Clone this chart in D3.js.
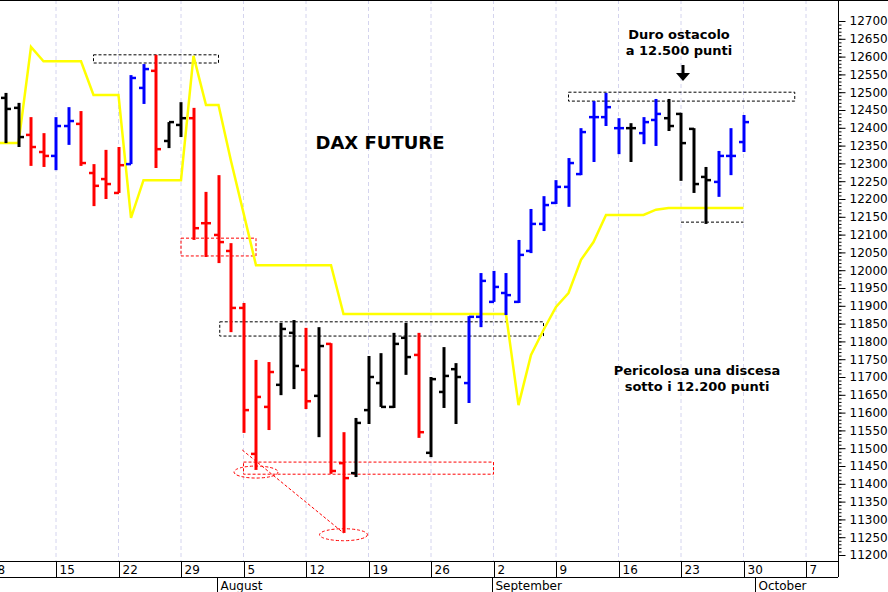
<!DOCTYPE html>
<html><head><meta charset="utf-8">
<script src="https://cdn.jsdelivr.net/npm/d3@7"></script>
<style>body{margin:0;background:#fff}svg{display:block;font-family:"DejaVu Sans",Verdana,sans-serif}</style>
</head><body><svg id="c" width="888" height="592"></svg>
<script>
const startIdx = 6; // trading-day index (0 = Mon 1 Jul 2019)
const opens  = [12484,12456,12380,12332,12321,12405,12411,12273,12256,12217,12298,12512,12560,12363,12408,12427,12132,12099,12054,11894,11484,11616,11678,11824,11720,11647,11793,11458,11430,11607,11683,11616,11810,11762,11487,11658,11722,11683,11869,11911,11936,11911,12054,12130,12189,12234,12270,12430,12430,12399,12399,12385,12422,12427,12439,12397,12262,12248,12321,12360];
const highs  = [12498,12470,12430,12385,12430,12458,12447,12298,12338,12346,12548,12579,12605,12416,12472,12456,12220,12267,12076,11908,11748,11742,11852,11860,11838,11840,11795,11545,11585,11759,11767,11824,11852,11824,11700,11784,11739,11871,11992,11998,11992,12085,12172,12208,12253,12315,12399,12475,12498,12427,12413,12430,12481,12481,12442,12399,12290,12335,12399,12436];
const lows   = [12357,12346,12293,12290,12281,12352,12293,12180,12200,12217,12298,12467,12287,12343,12374,12085,12037,12020,11826,11543,11439,11551,11649,11666,11610,11531,11428,11262,11419,11568,11616,11613,11706,11529,11475,11613,11568,11627,11840,11911,11874,11908,12048,12110,12186,12178,12267,12304,12405,12326,12304,12354,12349,12391,12251,12217,12130,12206,12267,12332];
const closes = [12453,12374,12346,12321,12405,12419,12301,12237,12242,12295,12540,12565,12340,12416,12427,12118,12132,12079,11894,11607,11644,11714,11835,11731,11632,11787,11436,11416,11571,11700,11616,11793,11756,11545,11694,11703,11700,11869,11970,11953,11930,12043,12130,12183,12234,12301,12388,12430,12458,12399,12399,12416,12439,12405,12357,12242,12253,12321,12321,12416];
const colors = "kkrrbbrrrrbbrkkrrrrrrrkkrkrrkkkkkrkkkbbbbbbbbbbbbbkbbkkkkbbb";
const yellowStart = 5;
const yellow = [12357,12357,12357,12627,12587,12587,12587,12587,12492,12492,12492,12147,12253,12253,12253,12253,12602,12464,12464,12307,12161,12014,12014,12014,12014,12014,12014,12014,11877,11877,11877,11877,11877,11877,11877,11877,11877,11877,11877,11877,11877,11877,11621,11762,11832,11897,11936,12029,12079,12155,12155,12155,12155,12170,12175,12175,12175,12175,12175,12175,12175];
const weekTicks = [{i:5,l:"8"},{i:10,l:"15"},{i:15,l:"22"},{i:20,l:"29"},{i:25,l:"5"},{i:30,l:"12"},{i:35,l:"19"},{i:40,l:"26"},{i:45,l:"2"},{i:50,l:"9"},{i:55,l:"16"},{i:60,l:"23"},{i:65,l:"30"},{i:70,l:"7"}];
const months = [{i:23,l:"August"},{i:45,l:"September"},{i:66,l:"October"}];
// annotation zones [i0,i1,v0,v1,color]
const zones = [[13,23,12605,12582,"#000"],[20,26,12090,12040,"red"],[23.1,49,11855,11815,"#000"],[25,45,11461,11427,"red"],[51,69.1,12500,12475,"#000"]];

const svg = d3.select("#c");
const W=838, H=561;
const x = d3.scaleLinear().domain([0,1]).range([-69,-56.5]);
const y = d3.scaleLinear().domain([11200,12700]).range([555,21]);
svg.append("defs").append("clipPath").attr("id","cp").append("rect").attr("width",W).attr("height",H);
const g = svg.append("g").attr("clip-path","url(#cp)");

weekTicks.forEach(t=>g.append("line").attr("x1",x(t.i)).attr("x2",x(t.i)).attr("y1",0).attr("y2",H)
  .attr("stroke","#d4d4ee").attr("stroke-dasharray","4,3"));

zones.forEach(z=>g.append("rect").attr("x",x(z[0])).attr("width",x(z[1])-x(z[0]))
  .attr("y",y(z[2])).attr("height",y(z[3])-y(z[2])).attr("fill","none").attr("stroke",z[4]).attr("stroke-dasharray","3,2"));
g.append("line").attr("x1",x(60)).attr("x2",x(65)).attr("y1",y(12135)).attr("y2",y(12135)).attr("stroke","#000").attr("stroke-dasharray","3,2");
g.append("ellipse").attr("cx",x(26)).attr("cy",y(11433)).attr("rx",22).attr("ry",6).attr("fill","none").attr("stroke","red").attr("stroke-dasharray","3,2");
g.append("ellipse").attr("cx",x(33)).attr("cy",y(11257)).attr("rx",24).attr("ry",6).attr("fill","none").attr("stroke","red").attr("stroke-dasharray","3,2");
g.append("line").attr("x1",x(24.9)).attr("y1",y(11495)).attr("x2",x(33)).attr("y2",y(11262)).attr("stroke","red").attr("stroke-dasharray","3,2");

g.append("path").datum(yellow).attr("fill","none").attr("stroke","#ffff00").attr("stroke-width",2.5)
  .attr("d",d3.line().x((d,k)=>x(yellowStart+k)).y(d=>y(d)));

const cmap={k:"#000",r:"#ff0000",b:"#0000ff"};
opens.forEach((o,k)=>{
  const xi=Math.round(x(startIdx+k)), c=cmap[colors[k]];
  g.append("line").attr("x1",xi).attr("x2",xi).attr("y1",y(highs[k])).attr("y2",y(lows[k])).attr("stroke",c).attr("stroke-width",3);
  g.append("line").attr("x1",xi-5).attr("x2",xi).attr("y1",y(o)).attr("y2",y(o)).attr("stroke",c).attr("stroke-width",2.5);
  g.append("line").attr("x1",xi).attr("x2",xi+5).attr("y1",y(closes[k])).attr("y2",y(closes[k])).attr("stroke",c).attr("stroke-width",2.5);
});

const txt=(tx,ty,s,size)=>svg.append("text").attr("x",tx).attr("y",ty).attr("text-anchor","middle")
  .attr("font-weight","bold").attr("font-size",size).text(s);
txt(380,149,"DAX FUTURE",18);
txt(679,39,"Duro ostacolo",13); txt(679,55,"a 12.500 punti",13);
txt(697,375,"Pericolosa una discesa",13); txt(697,391,"sotto i 12.200 punti",13);
svg.append("line").attr("x1",683).attr("x2",683).attr("y1",65).attr("y2",74).attr("stroke","#000").attr("stroke-width",3);
svg.append("path").attr("d","M676,73 L690,73 L683,81 Z").attr("fill","#000");

svg.append("line").attr("x1",W+0.5).attr("x2",W+0.5).attr("y1",0).attr("y2",577).attr("stroke","#000");
svg.append("line").attr("x1",0).attr("x2",W).attr("y1",H+0.5).attr("y2",H+0.5).attr("stroke","#000");
svg.append("line").attr("x1",0).attr("x2",W).attr("y1",577.5).attr("y2",577.5).attr("stroke","#000");
svg.append("line").attr("x1",0).attr("x2",888).attr("y1",0.5).attr("y2",0.5).attr("stroke","#000");

const ya=svg.append("g").attr("transform",`translate(${W+0.5},0)`);
ya.call(d3.axisRight(y).tickValues(d3.range(11200,12701,10)).tickSize(3).tickFormat(""));
ya.select(".domain").remove();
const yb=svg.append("g").attr("transform",`translate(${W+0.5},0)`);
yb.call(d3.axisRight(y).tickValues(d3.range(11200,12701,50)).tickSize(7).tickPadding(4).tickFormat(d3.format("d")));
yb.select(".domain").remove();
yb.selectAll("text").attr("font-size",12).attr("font-family","DejaVu Sans, Verdana, sans-serif").attr("fill","#000");

weekTicks.forEach(t=>{const xi=Math.round(x(t.i))+0.5; if(xi>W) return;
  svg.append("line").attr("x1",xi).attr("x2",xi).attr("y1",H).attr("y2",577).attr("stroke","#000");
  svg.append("text").attr("x",xi+3).attr("y",574).attr("font-size",12).text(t.l);});
months.forEach(m=>{const xi=Math.round(x(m.i)-1.5)+0.5;
  svg.append("line").attr("x1",xi).attr("x2",xi).attr("y1",577).attr("y2",592).attr("stroke","#000");
  svg.append("text").attr("x",xi+3).attr("y",590).attr("font-size",12).text(m.l);});
</script></body></html>
